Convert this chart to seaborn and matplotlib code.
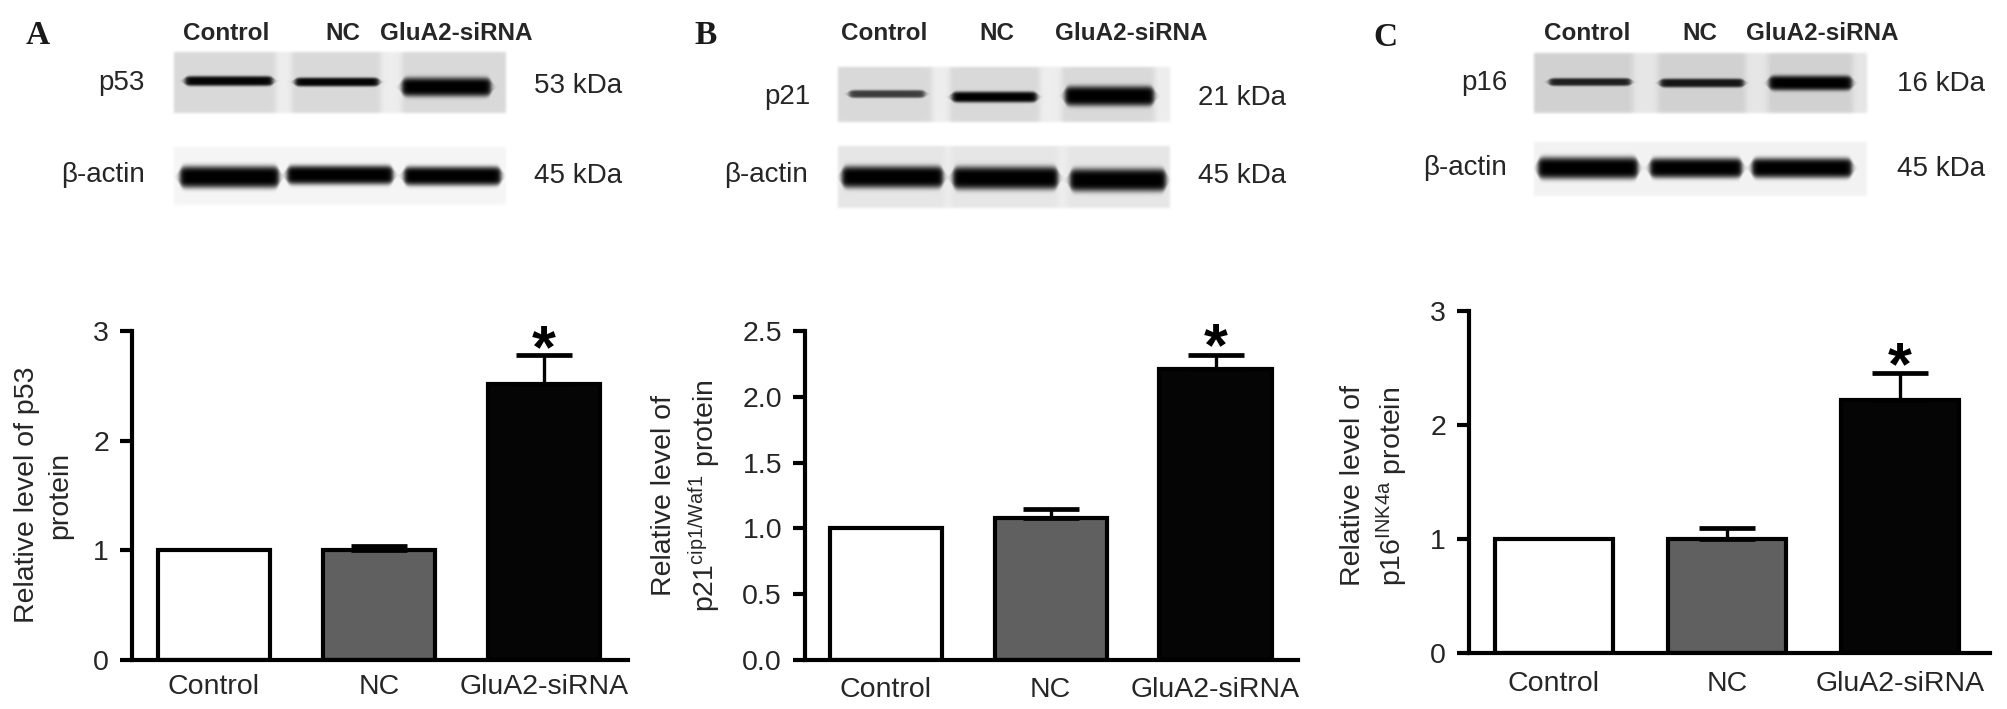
import numpy as np
import pandas as pd
import matplotlib
matplotlib.use('Agg')
import matplotlib.pyplot as plt
import seaborn as sns

sns.set_theme(style='white')
plt.rcParams['font.family'] = ['Liberation Sans', 'DejaVu Sans']
plt.rcParams['mathtext.default'] = 'regular'

# Bar data
groups = ['Control', 'NC', 'GluA2-siRNA']
p53_values = [1.0, 1.0, 2.52]
p53_errors = [0.0, 0.04, 0.26]
p21_values = [1.0, 1.08, 2.21]
p21_errors = [0.0, 0.07, 0.11]
p16_values = [1.0, 1.0, 2.22]
p16_errors = [0.0, 0.10, 0.24]

p53_ticks = [0, 1, 2, 3]
p21_ticks = [0.0, 0.5, 1.0, 1.5, 2.0, 2.5]
p16_ticks = [0, 1, 2, 3]
p21_ticklabels = ['0.0', '0.5', '1.0', '1.5', '2.0', '2.5']

label_a = 'Relative level of p53\nprotein'
label_b = 'Relative level of\np21$^{cip1/Waf1}$ protein'
label_c = 'Relative level of\np16$^{INK4a}$ protein'

palette = {'Control': 'white', 'NC': '#606060', 'GluA2-siRNA': '#050505'}

W, H = 2008, 709
fig = plt.figure(figsize=(W / 100, H / 100), dpi=100, facecolor='white')

# Full-figure pixel overlay for the blots and the text above the bars
over = fig.add_axes([0, 0, 1, 1])
over.set_xlim(0, W)
over.set_ylim(H, 0)
over.axis('off')


def blot(box, bg, gaps, bands):
    x0, x1, y0, y1 = box
    xs = np.arange(x0, x1) + 0.5
    ys = np.arange(y0, y1) + 0.5
    X, Y = np.meshgrid(xs, ys)
    img = np.full(X.shape, bg[0])
    for g0, g1 in gaps:
        m = 0.5 * (np.tanh((X - g0) / 3) - np.tanh((X - g1) / 3))
        img = img + (bg[1] - bg[0]) * m
    for b0, b1, yc, thick, dark in bands:
        px = 0.5 * (np.tanh((X - b0) / 3) - np.tanh((X - b1) / 3))
        half = np.maximum(thick / 2 * np.sqrt(px), 0.5)
        py = np.exp(-np.abs((Y - yc) / half) ** 4)
        img = img * (1 - dark * py * px)
    # soften the outer edge into the white page
    edge = (0.5 * (np.tanh((X - x0 - 2) / 1.5) - np.tanh((X - x1 + 2) / 1.5))
            * 0.5 * (np.tanh((Y - y0 - 2) / 1.5) - np.tanh((Y - y1 + 2) / 1.5)))
    img = 1 - (1 - img) * edge
    over.imshow(np.clip(img, 0, 1), cmap='gray', vmin=0, vmax=1, aspect='auto',
                extent=(x0, x1, y1, y0), interpolation='bilinear', zorder=1)


# Panel A blots
blot((172, 508, 50, 115), (0.85, 0.93), [(276, 292), (381, 402)],
     [(185, 273, 81, 10, 0.98), (295, 379, 82, 9, 0.98), (402, 491, 87, 19, 1.0)])
blot((172, 508, 145, 207), (0.96, 0.98), [],
     [(180, 279, 177, 22, 1.0), (287, 393, 175, 19, 1.0), (404, 501, 176, 19, 1.0)])
# Panel B blots
blot((836, 1172, 65, 124), (0.85, 0.93), [(932, 950), (1040, 1062), (1155, 1172)],
     [(849, 925, 94, 8, 0.72), (952, 1037, 97, 11, 1.0), (1065, 1154, 96, 20, 1.0)])
blot((836, 1172, 144, 210), (0.90, 0.93), [(945, 952), (1058, 1068)],
     [(842, 943, 177, 22, 1.0), (953, 1058, 178, 23, 1.0), (1070, 1166, 180, 23, 1.0)])
# Panel C blots
blot((1532, 1869, 51, 115), (0.82, 0.90), [(1633, 1658), (1746, 1768), (1853, 1869)],
     [(1549, 1631, 82, 8, 0.85), (1660, 1744, 83, 9, 0.9), (1769, 1852, 83, 15, 1.0)])
blot((1532, 1869, 140, 198), (0.95, 0.97), [],
     [(1538, 1638, 168, 22, 1.0), (1650, 1742, 168, 20, 1.0), (1752, 1852, 168, 20, 1.0)])

text_color = '#262626'
# Headers above the blots
for x, lab in [(226, 'Control'), (343, 'NC'), (456, 'GluA2-siRNA'),
               (884, 'Control'), (997, 'NC'), (1131, 'GluA2-siRNA'),
               (1587, 'Control'), (1700, 'NC'), (1822, 'GluA2-siRNA')]:
    over.text(x, 33, lab, ha='center', va='center', fontsize=17.5, fontweight='bold', color=text_color)

# Panel letters
for x, y, lab in [(38, 36, 'A'), (706, 36, 'B'), (1385, 37, 'C')]:
    over.text(x, y, lab, ha='center', va='center', fontsize=24, fontweight='bold',
              family='Liberation Serif', color='#1a1a1a')

# Protein names on the left, sizes on the right
for x, y, lab in [(145, 83, 'p53'), (145, 175, 'β-actin'), (810, 97, 'p21'),
                  (808, 175, 'β-actin'), (1507, 83, 'p16'), (1507, 168, 'β-actin')]:
    over.text(x, y, lab, ha='right', va='center', fontsize=20, color=text_color)
for x, y, lab in [(534, 86, '53 kDa'), (534, 176, '45 kDa'), (1198, 98, '21 kDa'),
                  (1198, 176, '45 kDa'), (1897, 84, '16 kDa'), (1897, 169, '45 kDa')]:
    over.text(x, y, lab, ha='left', va='center', fontsize=20, color=text_color)


def panel(box, values, errors, ylim, ticks, ticklabels, xlim, ylabel, label_pos, star_y, xpad):
    left, right, top, bottom = box
    ax = fig.add_axes([left / W, 1 - bottom / H, (right - left) / W, (bottom - top) / H])
    ax.patch.set_alpha(0)
    df = pd.DataFrame({'group': groups, 'value': values})
    sns.barplot(data=df, x='group', y='value', hue='group', palette=palette, order=groups,
                hue_order=groups, width=0.68, saturation=1, edgecolor='black', linewidth=3,
                errorbar=None, legend=False, ax=ax)
    lo = [0 for _ in errors]
    ax.errorbar(groups[1:], values[1:], yerr=[lo[1:], errors[1:]], fmt='none', ecolor='black',
                elinewidth=2.4, capsize=20, capthick=3.4, zorder=5)
    ax.set_xlim(*xlim)
    ax.set_ylim(*ylim)
    ax.set_yticks(ticks)
    ax.set_yticklabels(ticklabels, fontsize=20.5, color=text_color)
    ax.tick_params(axis='y', length=8.5, width=3, color='black', pad=8, left=True)
    ax.tick_params(axis='x', length=0, pad=xpad, labelsize=20.5, labelcolor=text_color)
    ax.set_xlabel('')
    ax.set_ylabel(ylabel, fontsize=20.5, color=text_color, linespacing=1.35)
    ax.yaxis.set_label_coords((label_pos[0] - left) / (right - left),
                              (bottom - label_pos[1]) / (bottom - top))
    sns.despine(ax=ax)
    for side in ['left', 'bottom']:
        ax.spines[side].set_linewidth(3)
        ax.spines[side].set_color('black')
    over.text((2 - xlim[0]) / (xlim[1] - xlim[0]) * (right - left) + left, star_y, '*',
              ha='center', va='center', fontsize=44, fontweight='bold', color='black')
    return ax


panel((132, 628, 331, 660), p53_values, p53_errors, (0, 3), p53_ticks, p53_ticks,
      (-0.497, 2.51), label_a, (73, 495), 352, 10)
panel((805, 1298, 331, 660), p21_values, p21_errors, (0, 2.5), p21_ticks, p21_ticklabels,
      (-0.49, 2.5), label_b, (723, 496), 350, 12)
panel((1469, 1990, 311, 653), p16_values, p16_errors, (0, 3), p16_ticks, p16_ticks,
      (-0.49, 2.52), label_c, (1410, 486), 369, 13)

fig.savefig('out.png', dpi=100)
